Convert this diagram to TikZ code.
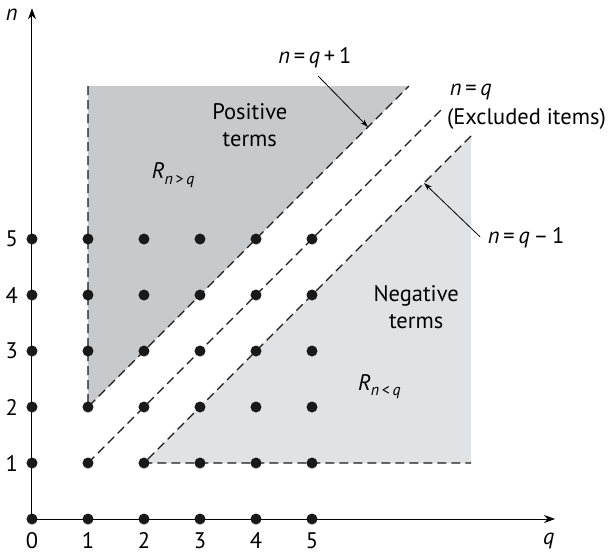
\documentclass[tikz,border=0pt]{standalone}
\usepackage{fontspec}
\setmainfont{PT Sans}
\usetikzlibrary{arrows.meta}
\newcommand{\sub}[1]{\raisebox{-0.45ex}{\fontsize{16}{18}\selectfont #1}}
\begin{document}
\begin{tikzpicture}[x=56pt,y=56pt,font=\fontsize{22.5}{27}\selectfont,
  dot/.style={circle,fill=black!90,inner sep=0pt,minimum size=11pt},
  bnd/.style={line width=1.3pt,dash pattern=on 9pt off 5pt,black!90},
  axis/.style={line width=1pt,-{Stealth[length=11pt,width=8pt]}},
  callout/.style={line width=0.8pt,-{Stealth[length=8pt,width=5pt]}},
  lbl/.style={inner sep=1pt}]
\useasboundingbox (-0.5714,-0.6429) rectangle (10.393,9.268);
\definecolor{darkreg}{RGB}{200,201,203}
\definecolor{lightreg}{RGB}{225,226,228}
% regions
\fill[darkreg] (1,7.73) -- (6.73,7.73) -- (1,2) -- cycle;
\fill[lightreg] (2,1) -- (7.84,1) -- (7.84,6.84) -- cycle;
% boundary coordinates
\coordinate (pTop) at (1,7.73);
\coordinate (pCorner) at (1,2);
\coordinate (pEnd) at (6.73,7.73);
\coordinate (zStart) at (1,1);
\coordinate (zEnd) at (7.36,7.36);
\coordinate (mEnd) at (7.84,6.84);
\coordinate (mCorner) at (2,1);
\coordinate (mRight) at (7.84,1);
\draw[bnd] (pTop) -- (pCorner) -- (pEnd);
\draw[bnd] (zStart) -- (zEnd);
\draw[bnd] (mEnd) -- (mCorner) -- (mRight);
% axes
\coordinate (O) at (0,0);
\coordinate (yEnd) at (0,9.12);
\coordinate (xEnd) at (9.34,0);
\draw[axis] (O) -- (yEnd);
\draw[axis] (O) -- (xEnd);
\node[lbl] (nlab) at (-0.36,9.0) {\textit{n}};
\node[lbl] (qlab) at (9.23,-0.39) {\textit{q}};
% ticks
\foreach \i in {0,...,5} {
  \node[lbl] (xt\i) at (\i,-0.39) {\i};
}
\foreach \i in {1,...,5} {
  \node[lbl] (yt\i) at (-0.36,\i) {\i};
}
% dots
\foreach \q in {0,...,5} {
  \foreach \n in {0,...,5} {
    \node[dot] (d\q\n) at (\q,\n) {};
  }
}
% labels
\node[lbl,align=center] (pos) at (3.89,7.04) {Positive\\[0pt]terms};
\node[lbl,align=center] (neg) at (6.86,3.79) {Negative\\[0pt]terms};
\node[lbl,anchor=west] (rpos) at (2.12,6.14) {\textit{R}\sub{\textit{n}\,>\,\textit{q}}};
\node[lbl,anchor=west] (rneg) at (5.8,2.36) {\textit{R}\sub{\textit{n}\,<\,\textit{q}}};
\node[lbl] (lp) at (5.05,8.23) {\textit{n}\,=\,\textit{q}\,+\,1};
\node[lbl,anchor=west] (lz) at (7.44,7.63) {\textit{n}\,=\,\textit{q}};
\node[lbl,anchor=west] (lzx) at (7.39,7.14) {(Excluded items)};
\node[lbl,anchor=west] (lm) at (8.12,5.02) {\textit{n}\,=\,\textit{q}\,–\,1};
\coordinate (tp) at (6,7);
\coordinate (tm) at (7,6);
\coordinate (sp) at (5.11,7.91);
\coordinate (sm) at (8.0,5.04);
\draw[callout] (sp) -- (tp);
\draw[callout] (sm) -- (tm);
\end{tikzpicture}
\end{document}
